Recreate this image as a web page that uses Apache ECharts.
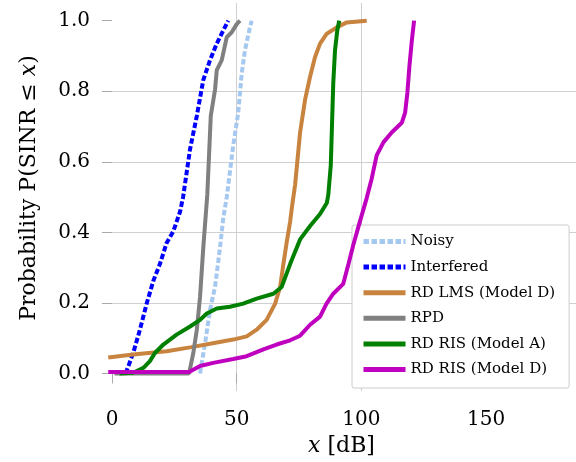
<!DOCTYPE html>
<html>
<head>
<meta charset="utf-8">
<script src="https://cdn.jsdelivr.net/npm/echarts@6/dist/echarts.min.js"></script>
<style>html,body{margin:0;padding:0;background:#fff;}#c{width:576px;height:462px;}</style>
</head>
<body>
<div id="c"></div>
<script>
const xTicks = [0, 50, 100, 150];
const yTicks = [0, 0.2, 0.4, 0.6, 0.8, 1.0];

const noisyX = [35.3, 37.3, 39.3, 41.3, 43.3, 44.6, 46, 48.6, 50.6, 52, 53.3, 55.3, 56];
const noisyP = [0, 0.085, 0.18, 0.245, 0.357, 0.44, 0.5, 0.646, 0.739, 0.85, 0.916, 0.981, 1.0];

const interfX = [5.5, 8.5, 11.2, 13.9, 16.6, 19.2, 21.9, 24.6, 27.3, 28.5, 31.3, 34, 36.6, 39.3, 42, 44.6, 46.6];
const interfP = [0, 0.058, 0.124, 0.198, 0.263, 0.31, 0.37, 0.403, 0.459, 0.5, 0.636, 0.73, 0.832, 0.888, 0.935, 0.972, 1.0];

const lmsX = [-1.5, 8.5, 21.9, 31.3, 39.3, 48.6, 54, 58, 62, 65.4, 67.4, 68.7, 70, 71.4, 72.3, 73.4, 75.4, 77.4, 79.4, 81.4, 83.4, 86.1, 90.1, 94.1, 102.1];
const lmsP = [0.045, 0.054, 0.063, 0.074, 0.084, 0.096, 0.105, 0.124, 0.152, 0.198, 0.245, 0.31, 0.37, 0.43, 0.48, 0.534, 0.683, 0.776, 0.841, 0.897, 0.935, 0.963, 0.981, 0.995, 1.0];

const rpdX = [1, 30.9, 32.6, 34, 35.3, 36.6, 38.2, 39.6, 41.3, 42, 44, 46, 48, 50, 51.3];
const rpdP = [0, 0, 0.058, 0.124, 0.217, 0.357, 0.506, 0.73, 0.804, 0.86, 0.888, 0.953, 0.967, 0.99, 1.0];

const risAX = [3, 8.5, 12.6, 15.2, 17.2, 20.6, 25.9, 31.3, 35.3, 38, 42, 47.3, 52.6, 58, 64.7, 68, 71.4, 75.4, 79.4, 83.4, 86.1, 86.7, 87.7, 88.1, 88.7, 89.4, 90.3, 91.1];
const risAP = [0, 0.002, 0.016, 0.035, 0.058, 0.082, 0.11, 0.133, 0.152, 0.17, 0.184, 0.189, 0.198, 0.212, 0.226, 0.245, 0.31, 0.38, 0.418, 0.452, 0.483, 0.506, 0.59, 0.683, 0.823, 0.916, 0.972, 1.0];

const risDX = [-1.5, 30.9, 35.3, 40.6, 48.6, 54, 60.7, 66, 71.4, 75.4, 79.4, 83.4, 86, 88.7, 92.7, 94.8, 96.8, 99.4, 102.1, 104.1, 106.1, 108.8, 112.1, 114.2, 116.2, 117.5, 118.4, 119.2, 120.2, 121.1];
const risDP = [0.004, 0.004, 0.021, 0.03, 0.041, 0.049, 0.068, 0.082, 0.094, 0.107, 0.138, 0.161, 0.198, 0.226, 0.254, 0.31, 0.366, 0.431, 0.497, 0.552, 0.618, 0.655, 0.683, 0.697, 0.711, 0.739, 0.795, 0.869, 0.944, 1.0];

const names = ['Noisy', 'Interfered', 'RD LMS (Model D)', 'RPD', 'RD RIS (Model A)', 'RD RIS (Model D)'];
const colors = ['#a4c8f0', '#0000ff', '#c8843f', '#808080', '#008000', '#bf00bf'];

function pairs(xs, ps) { return xs.map((x, i) => [x, ps[i]]); }
const seriesData = [pairs(noisyX, noisyP), pairs(interfX, interfP), pairs(lmsX, lmsP), pairs(rpdX, rpdP), pairs(risAX, risAP), pairs(risDX, risDP)];
const dotted = [true, true, false, false, false, false];

const FONT = '"DejaVu Serif", "Liberation Serif", serif';
const chart = echarts.init(document.getElementById('c'));
chart.setOption({
  animation: false,
  backgroundColor: '#fff',
  textStyle: { fontFamily: FONT, color: '#000' },
  grid: { left: 107, right: 0, top: 3, bottom: 67, containLabel: false },
  legend: {
    orient: 'vertical', left: 352, top: 225,
    data: names,
    itemWidth: 42, itemHeight: 14, itemGap: 10.6,
    padding: [9, 14, 11, 9],
    backgroundColor: '#fff', borderColor: '#cccccc', borderWidth: 1, borderRadius: 2,
    itemStyle: { opacity: 0 },
    lineStyle: { width: 5 },
    textStyle: { fontFamily: FONT, fontSize: 15, color: '#000' }
  },
  xAxis: {
    type: 'value', min: -2, max: 186,
    name: '{i|x} [dB]', nameLocation: 'middle', nameGap: 41,
    nameTextStyle: { fontFamily: FONT, fontSize: 22, color: '#000', rich: { i: { fontFamily: FONT, fontStyle: 'italic', fontSize: 22 } } },
    axisLine: { show: false },
    axisTick: { show: true, length: 10, customValues: xTicks, lineStyle: { color: '#aaaaaa', width: 1 } },
    axisLabel: { customValues: xTicks, fontFamily: FONT, fontSize: 20, color: '#000', margin: 19 },
    splitLine: { show: true, showMinLine: false, showMaxLine: false, lineStyle: { color: '#d0d0d0', width: 1 } }
  },
  yAxis: {
    type: 'value', min: -0.05, max: 1.05,
    name: 'Probability P(SINR ≤ {i|x})', nameLocation: 'middle', nameGap: 67,
    nameTextStyle: { fontFamily: FONT, fontSize: 22, color: '#000', padding: [0, 0, 0, 18], rich: { i: { fontFamily: FONT, fontStyle: 'italic', fontSize: 22 } } },
    axisLine: { show: false },
    axisTick: { show: true, length: 10, customValues: yTicks, lineStyle: { color: '#aaaaaa', width: 1 } },
    axisLabel: { customValues: yTicks, fontFamily: FONT, fontSize: 20, color: '#000', margin: 17, formatter: v => v.toFixed(1) },
    splitLine: { show: true, showMinLine: false, showMaxLine: false, lineStyle: { color: '#d0d0d0', width: 1 } }
  },
  series: names.map((n, i) => ({
    name: n, type: 'line', data: seriesData[i], showSymbol: false, symbol: 'none',
    color: colors[i],
    lineStyle: { color: colors[i], width: 4, type: dotted[i] ? [5.5, 2.5] : 'solid', cap: 'butt' },
    z: 2 + i
  }))
});
</script>
</body>
</html>
